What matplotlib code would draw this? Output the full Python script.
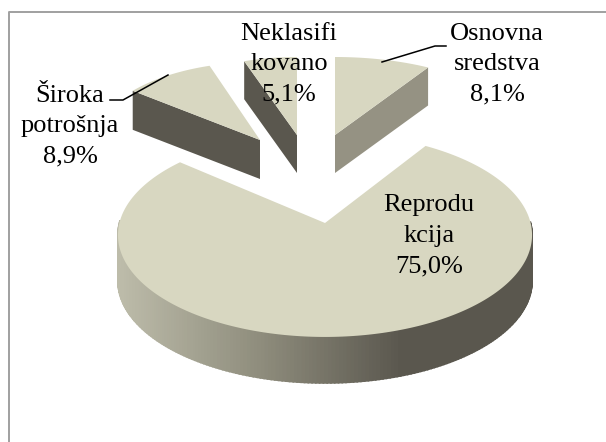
import numpy as np
import matplotlib
matplotlib.use('Agg')
from matplotlib import pyplot as plt
from matplotlib.colors import LinearSegmentedColormap

names = ['Osnovna\nsredstva', 'Reprodu\nkcija', 'Široka\npotrošnja', 'Neklasifi\nkovano']
shares = [8.1, 75.0, 8.9, 5.1]

# per slice look: apex pixel, radii, perspective, rotation, depth
apex_x = [335, 325, 260, 297]
apex_y = [135, 223, 140, 135]
rad_x = [186, 205.6, 164, 163]
rad_y = [78, 100.5, 78, 78]
persp = [0, 0.118, 0, 0]
rot = [0, 2.5, 1, 0]
depth = [38, 46, 39, 38]
label_x = [497, 429, 70, 289]
label_y = [64, 236, 126, 64]

top_col = '#d8d7c1'
wall = LinearSegmentedColormap.from_list('wall', ['#bdbcaa', '#8f8d7d', '#5a574e'])

fig = plt.figure(figsize=(6.06, 4.42), dpi=100)
ax = fig.add_axes([0, 0, 1, 1])
ax.set_xlim(0, 606)
ax.set_ylim(442, 0)
ax.axis('off')

# only top and left of the frame are in the picture
ax.plot([9, 9, 606], [442, 11.5, 11.5], color='#a0a0a0', lw=1.4, zorder=1)


def project(i, deg):
    t = np.radians(deg + rot[i])
    d = 1 + persp[i] * np.cos(t)
    return apex_x[i] + rad_x[i] * np.sin(t) / d, apex_y[i] - rad_y[i] * np.cos(t) / d


edges = np.concatenate([[0], np.cumsum(shares)]) / sum(shares) * 360

# back slices first, big one over the top
for i in [2, 3, 0, 1]:
    a = np.linspace(edges[i], edges[i + 1], 300)
    x, y = project(i, a)
    h = depth[i]
    if i == 1:
        # outer wall, shaded left to right
        for j in range(len(a) - 1):
            if np.cos(np.radians(a[j] + rot[i])) > 0.02 and abs(x[j] - 325) < 205:
                continue
            c = wall(np.clip((x[j] - 118) / 285, 0, 1))
            ax.fill([x[j], x[j + 1], x[j + 1], x[j]],
                    [y[j], y[j + 1], y[j + 1] + h, y[j] + h],
                    facecolor=c, edgecolor=c, lw=1.2, zorder=2)
    elif i == 0:
        # cut face on the right edge
        ax.fill([apex_x[i], x[-1], x[-1], apex_x[i]],
                [apex_y[i], y[-1], y[-1] + h, apex_y[i] + h],
                color='#959283', lw=0, zorder=2)
    else:
        # cut face on the left edge
        ax.fill([apex_x[i], x[0], x[0], apex_x[i]],
                [apex_y[i], y[0], y[0] + h, apex_y[i] + h],
                color='#5a574e', lw=0, zorder=2)
    ax.fill(np.r_[apex_x[i], x], np.r_[apex_y[i], y], color=top_col, lw=0, zorder=3)

# leader lines
ax.plot([382, 435, 446], [62, 46, 46], color='black', lw=1.1, zorder=4)
ax.plot([168, 123, 110], [75, 100, 100], color='black', lw=1.1, zorder=4)

for n, s, lx, ly in zip(names, shares, label_x, label_y):
    txt = n + '\n' + ('%.1f%%' % s).replace('.', ',')
    ax.text(lx, ly, txt, ha='center', va='center', family='Liberation Serif',
            fontsize=19, linespacing=1.5, color='black', zorder=5)

plt.savefig('out.png', dpi=100)
